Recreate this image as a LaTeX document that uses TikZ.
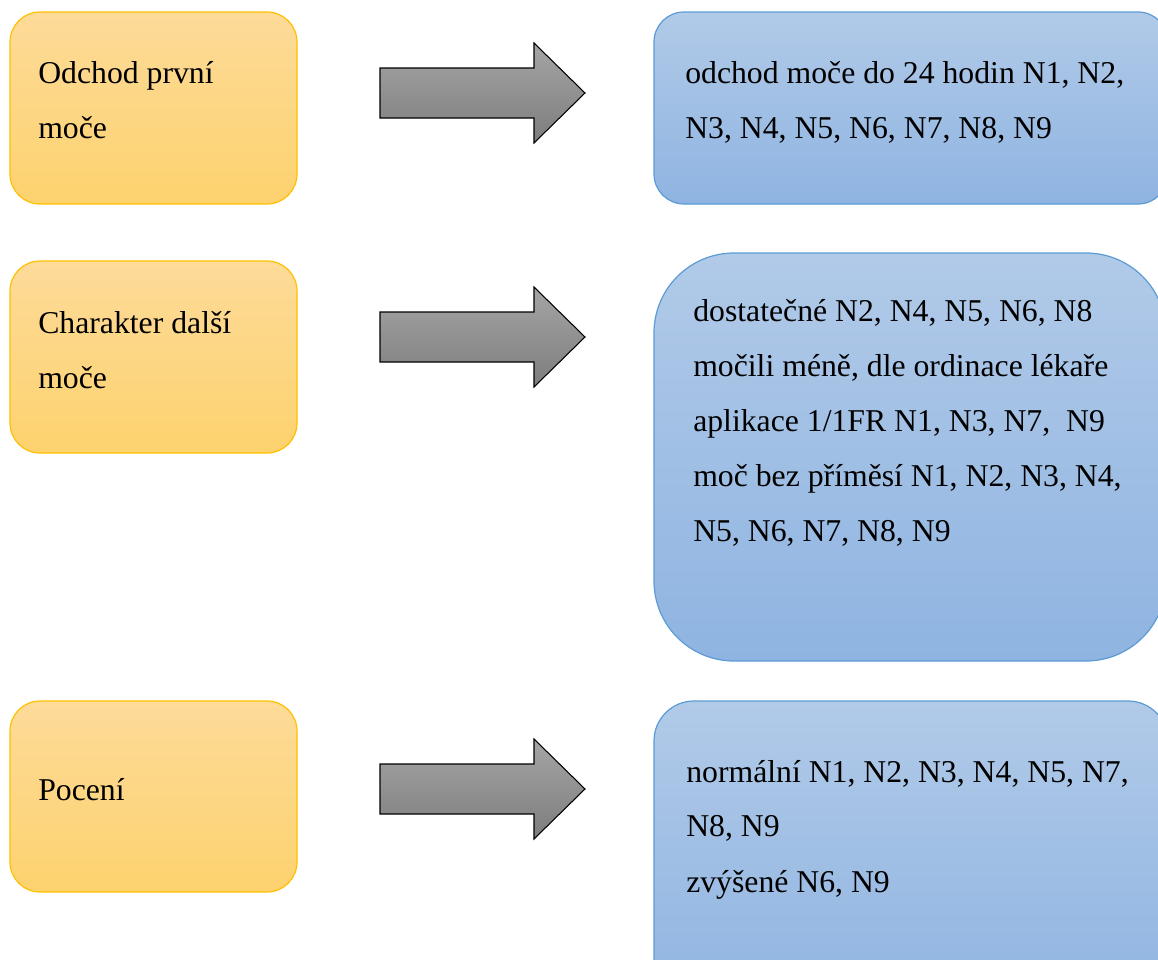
\documentclass[tikz,border=0pt]{standalone}
\usepackage{fontspec}
\setmainfont{Liberation Serif}
\begin{document}
\begin{tikzpicture}[x=0.75pt,y=-0.75pt,
  ybox/.style={draw={rgb,255:red,255;green,192;blue,0}, line width=0.9pt,
    top color={rgb,255:red,253;green,219;blue,153},
    bottom color={rgb,255:red,253;green,210;blue,110}},
  bbox/.style={draw={rgb,255:red,91;green,155;blue,213}, line width=0.9pt,
    top color={rgb,255:red,177;green,202;blue,232},
    bottom color={rgb,255:red,143;green,180;blue,225}},
  blockarrow/.style={draw=black, line width=0.8pt, line join=miter,
    top color={rgb,255:red,165;green,165;blue,165},
    bottom color={rgb,255:red,125;green,125;blue,125}},
  txt/.style={anchor=base west, inner sep=0pt, font=\fontsize{23.8}{41}\selectfont}
]
\useasboundingbox (0,0) rectangle (1158,960);
\clip (0,0) rectangle (1158,960);

% left column
\path[ybox, rounded corners=22.5pt] (10,12) rectangle (297,204);
\path[ybox, rounded corners=22.5pt] (10,261) rectangle (297,453);
\path[ybox, rounded corners=22.5pt] (10,701) rectangle (297,892);

% right column
\path[bbox, rounded corners=22.5pt] (654,12) rectangle (1168,204);
\path[bbox, rounded corners=60pt] (654,253) rectangle (1166,661);
\path[bbox, rounded corners=30pt] (654,701) rectangle (1168,1010);

% block arrows
\foreach \yc/\nm in {93/a1, 337/a2, 789/a3}{
  \path[blockarrow] (380,\yc-25) -- (534,\yc-25) -- (534,\yc-50) -- (585,\yc)
    -- (534,\yc+50) -- (534,\yc+25) -- (380,\yc+25) -- cycle;
}

% texts
\node[txt] (l1a) at (38,83) {Odchod první};
\node[txt] (l1b) at (38,138) {moče};
\node[txt] (l2a) at (38,333) {Charakter další};
\node[txt] (l2b) at (38,388) {moče};
\node[txt] (l3a) at (38,800) {Pocení};

\node[txt] (r1a) at (685,83) {odchod moče do 24 hodin N1, N2,};
\node[txt] (r1b) at (685,138) {N3, N4, N5, N6, N7, N8, N9};

\node[txt] (r2a) at (693,321) {dostatečné N2, N4, N5, N6, N8};
\node[txt] (r2b) at (693,376) {močili méně, dle ordinace lékaře};
\node[txt] (r2c) at (693,431) {aplikace 1/1FR N1, N3, N7,\ \ N9};
\node[txt] (r2d) at (693,486) {moč bez příměsí N1, N2, N3, N4,};
\node[txt] (r2e) at (693,541) {N5, N6, N7, N8, N9};

\node[txt] (r3a) at (686,782) {normální N1, N2, N3, N4, N5, N7,};
\node[txt] (r3b) at (686,836) {N8, N9};
\node[txt] (r3c) at (686,892) {zvýšené N6, N9};
\end{tikzpicture}
\end{document}
